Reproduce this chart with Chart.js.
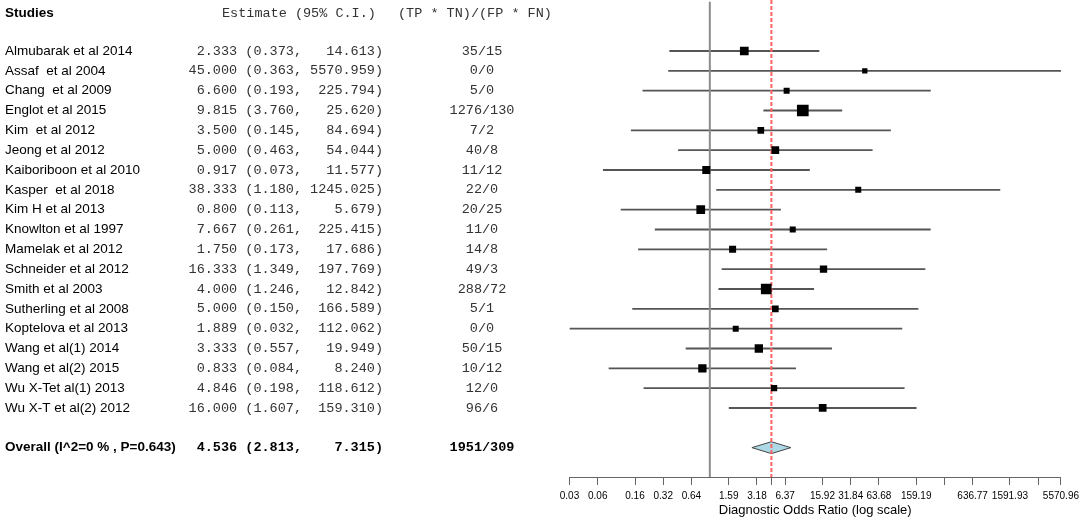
<!DOCTYPE html>
<html>
<head>
<meta charset="utf-8">
<script src="https://cdn.jsdelivr.net/npm/chart.js@4.4.1/dist/chart.umd.min.js"></script>
<style>
html,body{margin:0;padding:0;background:#fff;}
#wrap{width:1084px;height:519px;position:relative;}
</style>
</head>
<body>
<div id="wrap"><canvas id="c" width="1084" height="519"></canvas></div>
<script>
const studies = ['Almubarak et al 2014','Assaf  et al 2004','Chang  et al 2009','Englot et al 2015','Kim  et al 2012','Jeong et al 2012','Kaiboriboon et al 2010','Kasper  et al 2018','Kim H et al 2013','Knowlton et al 1997','Mamelak et al 2012','Schneider et al 2012','Smith et al 2003','Sutherling et al 2008','Koptelova et al 2013','Wang et al(1) 2014','Wang et al(2) 2015','Wu X-Tet al(1) 2013','Wu X-T et al(2) 2012'];
const estimates = [2.333,45.000,6.600,9.815,3.500,5.000,0.917,38.333,0.800,7.667,1.750,16.333,4.000,5.000,1.889,3.333,0.833,4.846,16.000];
const lowerCI = [0.373,0.363,0.193,3.760,0.145,0.463,0.073,1.180,0.113,0.261,0.173,1.349,1.246,0.150,0.032,0.557,0.084,0.198,1.607];
const upperCI = [14.613,5570.959,225.794,25.620,84.694,54.044,11.577,1245.025,5.679,225.415,17.686,197.769,12.842,166.589,112.062,19.949,8.240,118.612,159.310];
const ratioLabels = ['35/15','0/0','5/0','1276/130','7/2','40/8','11/12','22/0','20/25','11/0','14/8','49/3','288/72','5/1','0/0','50/15','10/12','12/0','96/6'];
const weights = [6.5,2.4,3.1,11.7,3.8,5.1,5.5,3.1,6.5,3.1,4.2,4.6,9.8,3.8,3.1,5.9,5.9,3.4,5.1];
const overallLabel = 'Overall (I^2=0 % , P=0.643)';
const overallEstimate = 4.536;
const overallLower = 2.813;
const overallUpper = 7.315;
const overallRatio = '1951/309';
const tickValues = [0.03184,0.06368,0.1592,0.3184,0.6368,1.592,3.184,4.536,6.368,15.92,31.84,63.68,159.19,318.38,636.77,1591.93,3183.86,5570.96];
const tickLabels = ['0.03','0.06','0.16','0.32','0.64','1.59','3.18','','6.37','15.92','31.84','63.68','159.19','','636.77','1591.93','','5570.96'];

const SANS = '"Liberation Sans", Arial, sans-serif';
const MONO = '"Liberation Mono", "Courier New", monospace';
const overallRow = studies.length + 2;

function pad(v, n) { let s = v.toFixed(3); while (s.length < n) s = ' ' + s; return s; }
function ciText(e, l, h) { return pad(e, 6) + ' (' + pad(l, 5) + ', ' + pad(h, 8) + ')'; }

const textPlugin = {
  id: 'forestText',
  afterDraw(chart) {
    const ctx = chart.ctx;
    const ys = chart.scales.y;
    ctx.save();
    ctx.textBaseline = 'middle';
    ctx.fillStyle = '#000';
    const hy = ys.getPixelForValue(-0.89);
    ctx.font = 'bold 13.5px ' + SANS;
    ctx.textAlign = 'left';
    ctx.fillText('Studies', 5, hy);
    ctx.font = '13.5px ' + MONO;
    ctx.fillStyle = '#333';
    ctx.fillText('Estimate (95% C.I.)', 222, hy);
    ctx.fillText('(TP * TN)/(FP * FN)', 398, hy);
    studies.forEach((s, i) => {
      const y = ys.getPixelForValue(i + 1);
      ctx.font = '13.5px ' + SANS;
      ctx.fillStyle = '#000';
      ctx.textAlign = 'left';
      ctx.fillText(s, 5, y);
      ctx.font = '13.5px ' + MONO;
      ctx.fillStyle = '#333';
      ctx.textAlign = 'right';
      ctx.fillText(ciText(estimates[i], lowerCI[i], upperCI[i]), 383, y);
      ctx.textAlign = 'center';
      ctx.fillText(ratioLabels[i], 482, y);
    });
    const oy = ys.getPixelForValue(overallRow);
    ctx.fillStyle = '#000';
    ctx.font = 'bold 13.5px ' + SANS;
    ctx.textAlign = 'left';
    ctx.fillText(overallLabel, 5, oy);
    ctx.font = 'bold 13.5px ' + MONO;
    ctx.textAlign = 'right';
    ctx.fillText(ciText(overallEstimate, overallLower, overallUpper), 383, oy);
    ctx.textAlign = 'center';
    ctx.fillText(overallRatio, 482, oy);
    ctx.restore();
  }
};

const yMin = -1.572, yMax = 22.48;
const diamondHalf = 0.3;

new Chart(document.getElementById('c'), {
  type: 'scatter',
  data: {
    datasets: [
      {
        type: 'scatter',
        order: 0,
        data: studies.map((s, i) => ({ x: estimates[i], y: i + 1 })),
        pointStyle: 'rect',
        pointRadius: weights.map(w => 2.417 * Math.sqrt(w)),
        backgroundColor: '#000',
        borderWidth: 0
      },
      {
        type: 'line',
        order: 1,
        data: [{ x: overallEstimate, y: yMin }, { x: overallEstimate, y: yMax }],
        borderColor: '#ff6262',
        borderWidth: 2,
        borderDash: [4, 2],
        pointRadius: 0,
        fill: false
      },
      {
        type: 'line',
        order: 2,
        data: [
          { x: overallLower, y: overallRow },
          { x: overallEstimate, y: overallRow - diamondHalf },
          { x: overallUpper, y: overallRow },
          { x: overallEstimate, y: overallRow + diamondHalf },
          { x: overallLower, y: overallRow }
        ],
        borderColor: '#444',
        borderWidth: 1,
        backgroundColor: '#add8e6',
        fill: 'shape',
        pointRadius: 0,
        tension: 0
      },
      {
        type: 'line',
        order: 3,
        data: [{ x: 1, y: -1.48 }, { x: 1, y: yMax }],
        borderColor: '#8c8c8c',
        borderWidth: 2,
        pointRadius: 0,
        fill: false
      },
      {
        type: 'bar',
        order: 4,
        indexAxis: 'y',
        data: studies.map((s, i) => ({ y: i + 1, x: [lowerCI[i], upperCI[i]] })),
        backgroundColor: '#555',
        borderWidth: 0,
        barThickness: 1.2
      }
    ]
  },
  options: {
    responsive: false,
    devicePixelRatio: 1,
    animation: false,
    events: [],
    layout: { autoPadding: false, padding: { left: 569.5, right: 19.6, top: 0, bottom: 0 } },
    plugins: { legend: { display: false }, tooltip: { enabled: false } },
    scales: {
      x: {
        type: 'logarithmic',
        min: tickValues[0],
        max: tickValues[tickValues.length - 1],
        offset: false,
        afterBuildTicks: s => { s.ticks = tickValues.map(v => ({ value: v })); },
        afterFit: s => { s.height = 42; },
        ticks: {
          autoSkip: false, maxRotation: 0, minRotation: 0, padding: 5,
          color: '#000', font: { family: SANS, size: 10 },
          callback: (v, i) => tickLabels[i]
        },
        grid: { drawOnChartArea: false, drawTicks: true, tickLength: 8, color: '#666', lineWidth: 1 },
        border: { display: true, color: '#666', width: 1 },
        title: {
          display: true, text: 'Diagnostic Odds Ratio (log scale)', color: '#000',
          font: { family: SANS, size: 13 }, padding: { top: 0, bottom: 1 }
        }
      },
      y: {
        type: 'linear', display: false, min: yMin, max: yMax, reverse: true, offset: false
      }
    }
  },
  plugins: [textPlugin]
});
</script>
</body>
</html>
